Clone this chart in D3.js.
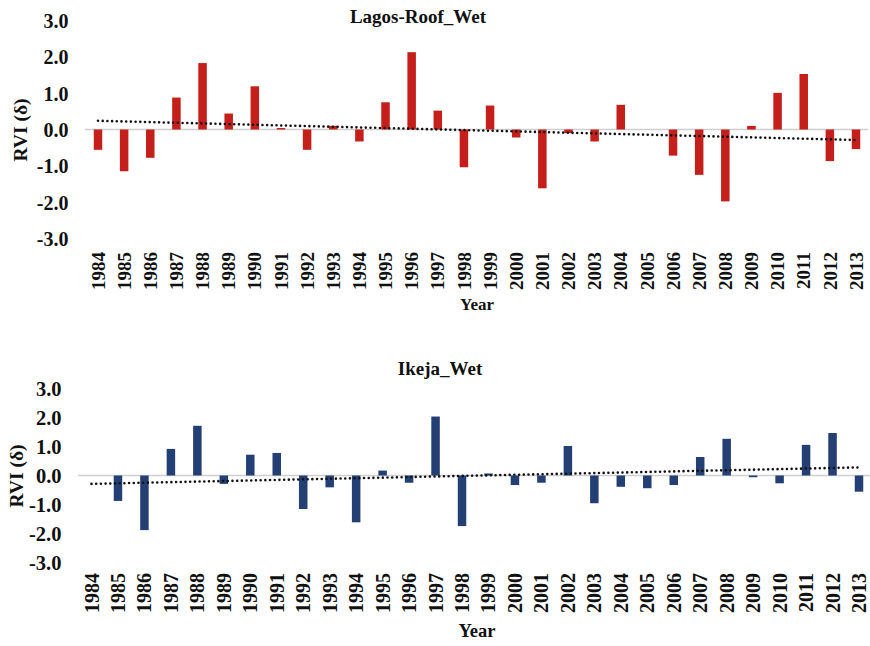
<!DOCTYPE html>
<html><head><meta charset="utf-8">
<script src="https://cdn.jsdelivr.net/npm/d3@7/dist/d3.min.js"></script>
<style>body{margin:0;background:#fff}svg{display:block}text{font-family:"Liberation Serif","Times New Roman",serif;font-weight:bold;fill:#111}</style>
</head><body>
<svg id="c" width="870" height="646"></svg>
<script>
const years = d3.range(1984, 2014).map(String);
const yTicks = [-3, -2, -1, 0, 1, 2, 3];
const lagosValues = [-0.56,-1.15,-0.78,0.88,1.83,0.44,1.19,0.04,-0.56,0.1,-0.33,0.75,2.13,0.52,
  -1.04,0.66,-0.22,-1.62,-0.1,-0.33,0.68,0,-0.72,-1.25,-1.98,0.1,1.01,1.53,-0.87,-0.54];
const ikejaValues = [0,-0.88,-1.89,0.92,1.72,-0.29,0.72,0.78,-1.16,-0.41,-1.62,0.17,-0.25,2.04,
  -1.75,0.07,-0.33,-0.25,1.02,-0.96,-0.39,-0.44,-0.33,0.64,1.27,-0.06,-0.27,1.06,1.47,-0.56];
const lagosTrend = [0.24, -0.29];   // trend line value at 1984 and 2013
const ikejaTrend = [-0.29, 0.28];

const svg = d3.select("#c");
const fmt = d => d.toFixed(1);

function panel(cfg){
  const g = svg.append("g");
  const x = d3.scalePoint().domain(years).range(cfg.xr);
  const y = d3.scaleLinear().domain([-3,3]).range(cfg.yr);
  g.append("line").attr("x1",cfg.zx[0]).attr("x2",cfg.zx[1])
    .attr("y1",y(0)).attr("y2",y(0)).attr("stroke","#cfcfcf").attr("stroke-width",1.6);
  const bw = 8.5;
  g.selectAll("rect.bar").data(cfg.values).join("rect")
    .attr("x",(d,i)=>x(years[i])-bw/2)
    .attr("y",d=>y(Math.max(0,d)))
    .attr("width",bw)
    .attr("height",d=>Math.abs(y(d)-y(0)))
    .attr("fill",cfg.color);
  g.append("line")
    .attr("x1",x(years[0])).attr("x2",x(years[years.length-1]))
    .attr("y1",y(cfg.trend[0])).attr("y2",y(cfg.trend[1]))
    .attr("stroke","#111").attr("stroke-width",2.6)
    .attr("stroke-linecap","round").attr("stroke-dasharray","0 4.7");
  const ya = g.append("g").attr("transform",`translate(${cfg.yax},0)`)
    .call(d3.axisLeft(y).tickValues(yTicks).tickSize(0).tickPadding(0).tickFormat(fmt));
  ya.select(".domain").remove();
  ya.attr("font-family",null).attr("font-size",null);
  ya.selectAll("text").attr("font-size",cfg.yfs).attr("dy","0.35em");
  g.selectAll("text.xl").data(years).join("text").attr("class","xl")
    .attr("transform",d=>`translate(${x(d)},${cfg.xly}) rotate(-90)`)
    .attr("text-anchor","end").attr("dy","0.35em").attr("font-size",cfg.xfs).text(d=>d);
  g.append("text").attr("x",cfg.tx).attr("y",cfg.ty).attr("text-anchor","middle")
    .attr("font-size",19).text(cfg.title);
  g.append("text").attr("x",477).attr("y",cfg.yearY).attr("text-anchor","middle")
    .attr("font-size",cfg.yearFs).text("Year");
  g.append("text").attr("transform",`translate(${cfg.ytx},${cfg.yty}) rotate(-90)`)
    .attr("text-anchor","middle").attr("dy","0.35em").attr("font-size",19.5).text("RVI (δ)");
}

panel({values:lagosValues, trend:lagosTrend, color:"#c41f1a", xr:[98,856], yr:[238.4,20.6],
  zx:[85,868], yax:68.5, yfs:20, xly:252, xfs:19, title:"Lagos-Roof_Wet", tx:418, ty:23,
  yearY:310, yearFs:17, ytx:20, yty:130});
panel({values:ikejaValues, trend:ikejaTrend, color:"#233f74", xr:[91.5,859], yr:[562.2,388.8],
  zx:[78,870], yax:61.5, yfs:20.5, xly:573, xfs:20, title:"Ikeja_Wet", tx:440, ty:375,
  yearY:637, yearFs:18.5, ytx:16, yty:476});
</script>
</body></html>
